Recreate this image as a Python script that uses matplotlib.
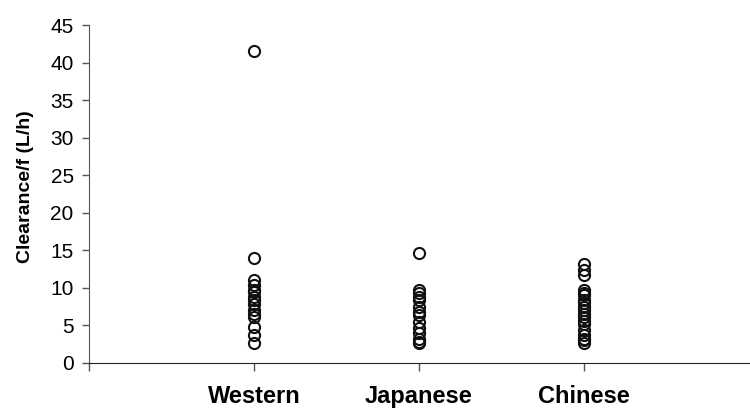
import numpy as np
import matplotlib.pyplot as plt

plt.rcParams['font.family'] = ['Liberation Sans', 'DejaVu Sans']

groups = ['Western', 'Japanese', 'Chinese']

western = [41.6, 14.0, 11.0, 10.3, 9.7, 9.4, 8.8, 8.3, 7.8, 7.0, 6.5, 6.1, 4.8, 3.7, 2.6]
japanese = [14.6, 9.7, 9.3, 8.8, 8.3, 7.4, 6.8, 6.3, 5.4, 4.6, 3.9, 3.2, 2.8, 2.6]
chinese = [13.2, 12.4, 11.7, 9.7, 9.3, 9.0, 8.3, 8.0, 7.4, 7.0, 6.5, 6.1, 5.6,
           5.2, 4.3, 3.7, 3.2, 3.0, 2.6]

yticks = list(range(0, 50, 5))

fig = plt.figure(figsize=(7.5, 4.12), dpi=100)
ax = fig.add_axes([0.1187, 0.12, 0.88, 0.819])

for i, vals in enumerate([western, japanese, chinese]):
    ax.plot(np.full(len(vals), i + 1), vals, linestyle='none', marker='o',
            markersize=8, markerfacecolor='none', markeredgecolor='#111111',
            markeredgewidth=1.5, clip_on=False)

ax.set_xlim(0, 4)
ax.set_ylim(0, 45)
ax.set_yticks(yticks)
ax.set_xticks([0, 1, 2, 3])
ax.set_xticklabels([''] + groups, fontsize=17, fontweight='bold')
ax.tick_params(axis='x', length=6, width=1, color='#555555', pad=10)
ax.tick_params(axis='y', length=5, width=1, color='#555555', labelsize=15, pad=6)

for side in ['top', 'right']:
    ax.spines[side].set_visible(False)
ax.spines['left'].set_color('#555555')
ax.spines['bottom'].set_color('#222222')

ax.set_ylabel('Clearance/f (L/h)', fontsize=14, fontweight='bold')
ax.yaxis.set_label_coords(-0.084, 0.52)

fig.savefig('out.png', dpi=100)
